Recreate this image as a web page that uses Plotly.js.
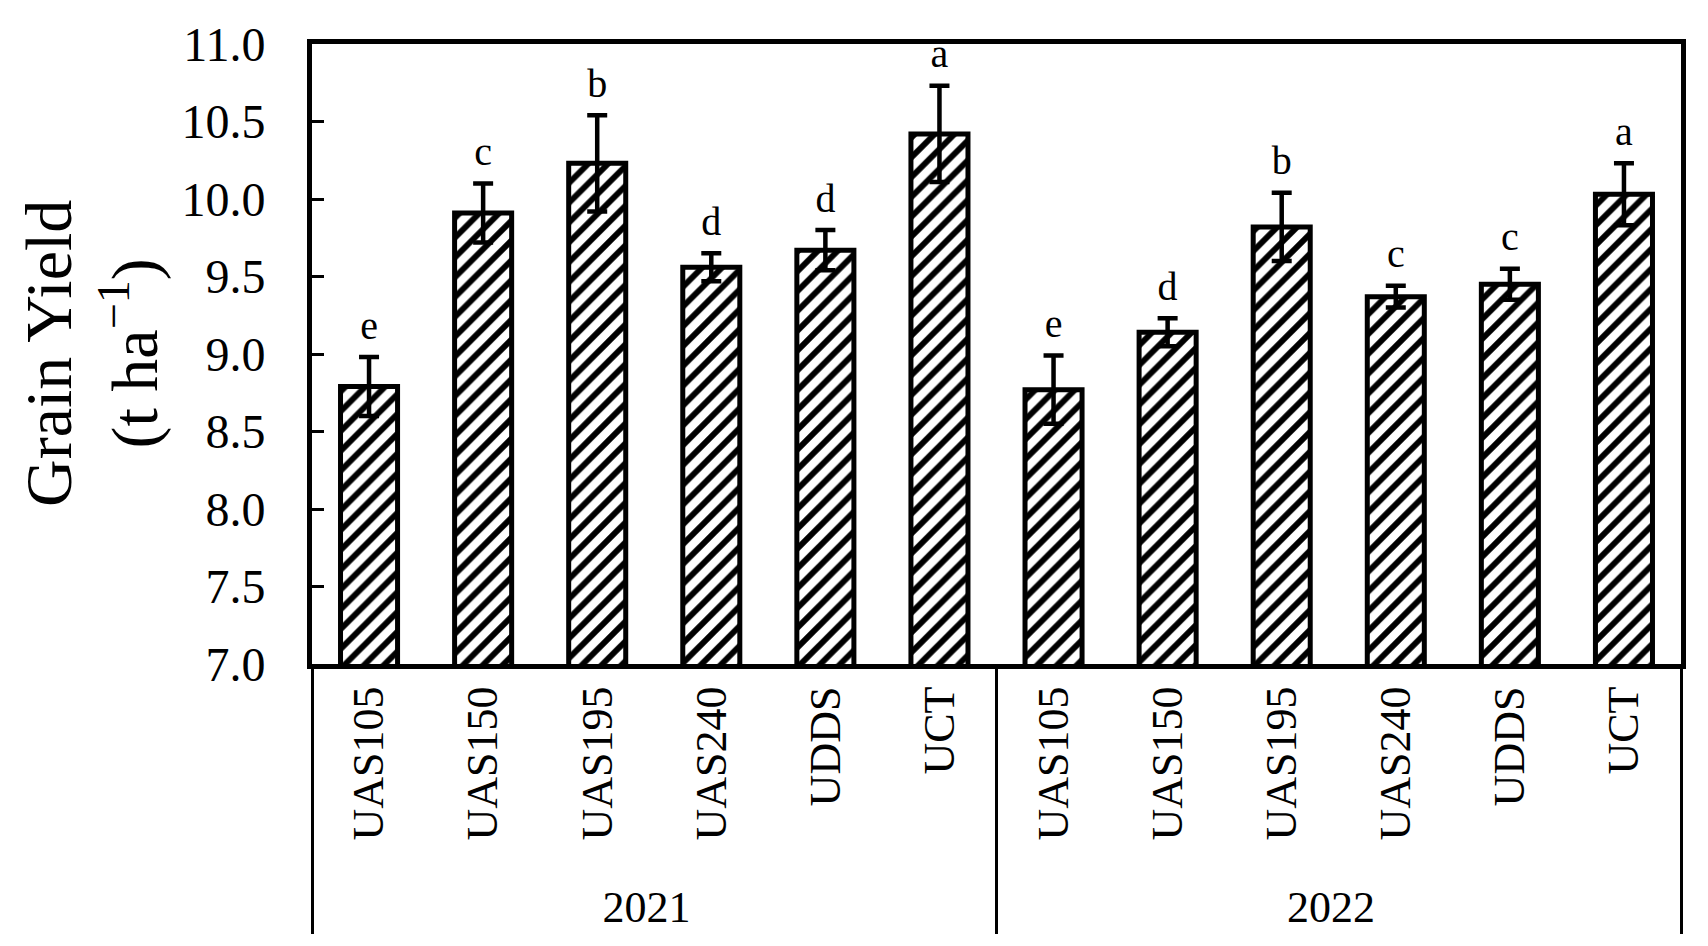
<!DOCTYPE html>
<html><head><meta charset="utf-8">
<script src="https://cdn.plot.ly/plotly-3.0.1.min.js"></script>
<style>html,body{margin:0;padding:0;background:#fff;}#chart{width:1708px;height:946px;}</style>
</head><body><div id="chart"></div>
<script>
const years = ['2021','2021','2021','2021','2021','2021','2022','2022','2022','2022','2022','2022'];
const treatments = ['UAS105','UAS150','UAS195','UAS240','UDDS','UCT','UAS105','UAS150','UAS195','UAS240','UDDS','UCT'];
const yieldValues = [8.79, 9.91, 10.23, 9.56, 9.67, 10.42, 8.77, 9.14, 9.82, 9.37, 9.45, 10.03];
const errorValues = [0.19, 0.19, 0.31, 0.09, 0.13, 0.31, 0.22, 0.09, 0.22, 0.07, 0.10, 0.20];
const letters = ['e','c','b','d','d','a','e','d','b','c','c','a'];

const serif = 'Liberation Serif, Times New Roman, serif';
const letterY = yieldValues.map((v, i) => v + errorValues[i]);

const bars = {
  type: 'bar',
  x: [years, treatments],
  y: yieldValues,
  width: 0.5,
  marker: {
    color: '#ffffff',
    line: {color: '#000000', width: 5},
    pattern: {shape: '/', fgcolor: '#000000', bgcolor: '#ffffff', size: 14, solidity: 0.42}
  },
  error_y: {type: 'data', array: errorValues, visible: true, color: '#000000', thickness: 4.5, width: 10},
  hoverinfo: 'skip',
  showlegend: false
};

const labels = {
  type: 'scatter',
  mode: 'markers+text',
  x: [years, treatments],
  y: letterY,
  text: letters,
  textposition: 'top center',
  textfont: {family: serif, size: 40, color: '#000000'},
  marker: {size: 12, color: 'rgba(0,0,0,0)'},
  hoverinfo: 'skip',
  showlegend: false,
  cliponaxis: false
};

const layout = {
  width: 1708, height: 946,
  margin: {l: 312, r: 27, t: 44, b: 282},
  paper_bgcolor: '#ffffff', plot_bgcolor: '#ffffff',
  font: {family: serif, color: '#000000'},
  showlegend: false,
  xaxis: {
    type: 'multicategory',
    range: [-0.5, 11.5],
    tickangle: -90,
    tickfont: {family: serif, size: 44, color: '#000000'},
    showline: true, linecolor: '#000000', linewidth: 5, mirror: true,
    ticks: '', showgrid: false, zeroline: false,
    showdividers: true, dividercolor: '#000000', dividerwidth: 3
  },
  yaxis: {
    range: [7, 11], dtick: 0.5, tick0: 7, tickformat: '.1f',
    ticks: 'inside', ticklen: 12, tickwidth: 3, tickcolor: '#000000',
    tickfont: {family: serif, size: 48, color: '#000000'},
    ticklabelstandoff: 32,
    showline: true, linecolor: '#000000', linewidth: 5, mirror: true,
    showgrid: false, zeroline: false
  },
  annotations: [{
    text: 'Grain Yield<br>(t ha<sup>−1</sup>)',
    xref: 'paper', yref: 'paper',
    x: (92 - 312) / 1369, y: 0.5,
    xanchor: 'center', yanchor: 'middle',
    textangle: -90, showarrow: false,
    font: {family: serif, size: 66, color: '#000000'}
  }]
};

Plotly.newPlot('chart', [bars, labels], layout, {displayModeBar: false, staticPlot: true});
</script>
</body></html>
